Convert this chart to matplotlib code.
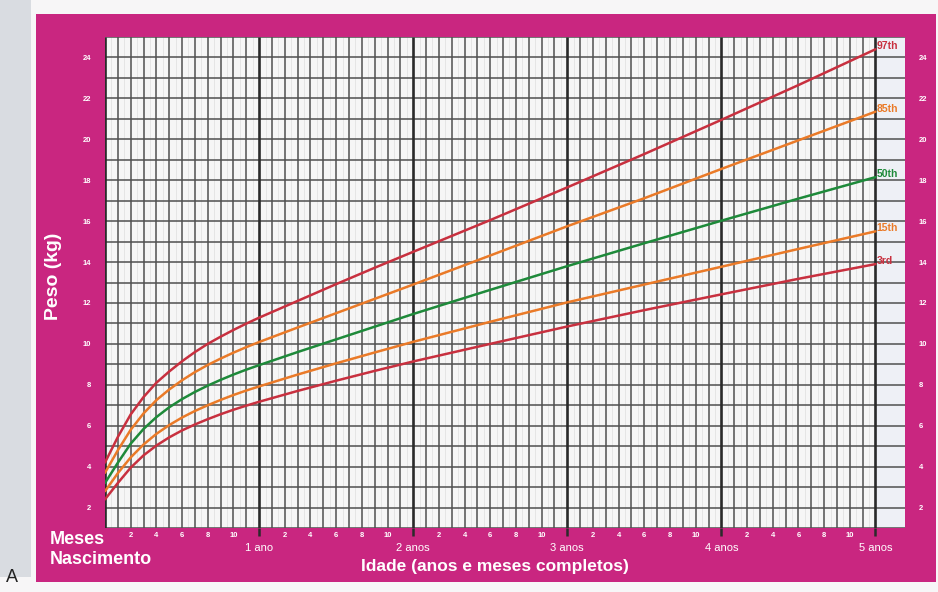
import numpy as np
import matplotlib
matplotlib.use("Agg")
import matplotlib.pyplot as plt
from matplotlib.patches import Rectangle

plt.rcParams['font.family'] = ['Liberation Sans', 'DejaVu Sans']

# ---- data (weight-for-age percentiles, girls) ----
ages = [0, 1, 2, 3, 4, 5, 6, 7, 8, 9, 10, 11, 12, 15, 18, 21, 24, 30, 36, 42, 48, 54, 60]
p3 = [2.4, 3.2, 3.95, 4.55, 5.03, 5.43, 5.77, 6.06, 6.32, 6.56, 6.78, 6.98, 7.17,
      7.7, 8.2, 8.68, 9.14, 10.0, 10.85, 11.65, 12.42, 13.18, 13.9]
p15 = [2.8, 3.68, 4.45, 5.08, 5.6, 6.03, 6.4, 6.72, 7.0, 7.26, 7.5, 7.72, 7.92,
       8.5, 9.05, 9.58, 10.1, 11.08, 12.03, 12.9, 13.77, 14.64, 15.5]
p50 = [3.2, 4.19, 5.12, 5.84, 6.42, 6.9, 7.3, 7.65, 7.96, 8.24, 8.5, 8.74, 8.96,
       9.6, 10.22, 10.84, 11.46, 12.64, 13.8, 14.92, 16.02, 17.1, 18.15]
p85 = [3.7, 4.8, 5.8, 6.6, 7.25, 7.77, 8.22, 8.62, 8.97, 9.28, 9.57, 9.84, 10.09,
       10.8, 11.5, 12.2, 12.9, 14.32, 15.75, 17.12, 18.55, 19.95, 21.35]
p97 = [4.2, 5.45, 6.55, 7.4, 8.1, 8.65, 9.15, 9.6, 10.0, 10.35, 10.68, 10.99, 11.28,
       12.1, 12.92, 13.72, 14.5, 16.05, 17.65, 19.28, 20.95, 22.65, 24.4]

series_labels = ["97th", "85th", "50th", "15th", "3rd"]
year_ticks = [12, 24, 36, 48, 60]
year_labels = ["1 ano", "2 anos", "3 anos", "4 anos", "5 anos"]
month_ticks = [m for m in range(2, 60, 2) if m % 12 != 0]
month_labels = [str(m % 12) for m in month_ticks]
y_ticks = list(range(2, 25, 2))

PINK = "#c92680"
RED = "#c8303f"
ORANGE = "#ea7a28"
GREEN = "#1e8a3a"
colors = [RED, ORANGE, GREEN, ORANGE, RED]

fig = plt.figure(figsize=(9.38, 5.92), dpi=100)
fig.patch.set_facecolor("#f7f6f7")

# left grey strip and pink frame
fig.patches.append(Rectangle((0, 0.025), 31/938, 0.975, transform=fig.transFigure,
                             facecolor="#d9dce1", edgecolor="none", zorder=-2))
fig.patches.append(Rectangle((36/938, 10/592), 900/938, 568/592, transform=fig.transFigure,
                             facecolor=PINK, edgecolor="none", zorder=-1))

ax = fig.add_axes([105/938, 64/592, 800/938, 491/592])
ax.set_xlim(0, 62.3)
ax.set_ylim(1, 25)
ax.set_facecolor("#f6f6f6")
for s in ax.spines.values():
    s.set_visible(False)

# light strip right of 5 years
ax.axvspan(60, 62.3, facecolor="#eef0f6", edgecolor="none", zorder=0.5)

# grid
half = np.arange(0.5, 60, 1.0)
ax.vlines(half, 1, 25, colors="#e2e2e2", linewidth=0.6, zorder=1)
months = np.arange(0, 61)
ax.vlines([m for m in months if m % 12 != 0], 1, 25, colors="#505050", linewidth=1.1, zorder=1.2)
ax.vlines([0] + year_ticks, 1, 25, colors="#2a2a2a", linewidth=1.9, zorder=1.3)
ax.hlines(np.arange(1, 26), 0, 62.3, colors="#505050", linewidth=1.1, zorder=1.2)

# curves
for vals, c in zip([p97, p85, p50, p15, p3], colors):
    ax.plot(ages, vals, color=c, linewidth=1.8, zorder=3,
            solid_capstyle="round", solid_joinstyle="round")

for vals, c, lab in zip([p97, p85, p50, p15, p3], colors, series_labels):
    ax.text(60.1, vals[-1] + 0.15, lab, color=c, fontsize=7.5, fontweight="bold",
            ha="left", va="center", zorder=4)

# ticks
ax.set_yticks(y_ticks)
ax.set_yticklabels([str(v) for v in y_ticks])
ax.tick_params(axis="y", which="major", length=0, pad=10, labelsize=5.5,
               labelcolor="white", labelright=True, right=False)
for lab in ax.get_yticklabels():
    lab.set_fontweight("bold")

ax.set_xticks(year_ticks)
ax.set_xticklabels(year_labels)
ax.set_xticks(month_ticks, minor=True)
ax.set_xticklabels(month_labels, minor=True)
ax.tick_params(axis="x", which="major", length=6, width=1.8, color="#2a2a2a",
               direction="out", pad=5, labelsize=8, labelcolor="white")
ax.tick_params(axis="x", which="minor", length=0, pad=3, labelsize=5.5,
               labelcolor="white")
for lab in ax.get_xticklabels(minor=True):
    lab.set_fontweight("bold")

# titles / texts
fig.text(50/938, 1 - 540/592, "Meses", color="white", fontsize=13,
         fontweight="bold", ha="left", va="center")
fig.text(50/938, 1 - 560/592, "Nascimento", color="white", fontsize=13,
         fontweight="bold", ha="left", va="center")
fig.text(495/938, 1 - 566/592, "Idade (anos e meses completos)", color="white",
         fontsize=12.5, fontweight="bold", ha="center", va="center")
fig.text(54/938, 1 - 276/592, "Peso (kg)", color="white", fontsize=14,
         fontweight="bold", ha="center", va="center", rotation=90)
fig.text(12/938, 1 - 578/592, "A", color="#222222", fontsize=13,
         ha="center", va="center")

fig.savefig("out.png", dpi=100, facecolor=fig.get_facecolor())
